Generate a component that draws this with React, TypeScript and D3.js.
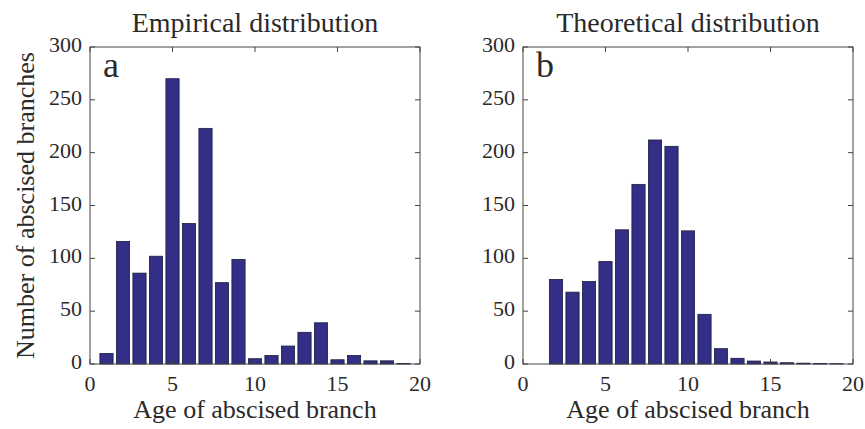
import React from 'react';
import * as d3 from 'd3';

// ages (bins) and counts
const empiricalAges = [1, 2, 3, 4, 5, 6, 7, 8, 9, 10, 11, 12, 13, 14, 15, 16, 17, 18, 19];
const empiricalCounts = [10, 116, 86, 102, 270, 133, 223, 77, 99, 5, 8, 17, 30, 39, 4, 8, 3, 3, 0.5];

const theoreticalAges = [2, 3, 4, 5, 6, 7, 8, 9, 10, 11, 12, 13, 14, 15, 16, 17, 18, 19];
const theoreticalCounts = [80, 68, 78, 97, 127, 170, 212, 206, 126, 47, 14.5, 5.4, 2.8, 1.9, 1.2, 0.8, 0.5, 0.3];

const xTicks = [0, 5, 10, 15, 20];
const yTicks = [0, 50, 100, 150, 200, 250, 300];

const FONT = "'Liberation Serif', 'Times New Roman', serif";
const BAR = '#332f86';
const BAR_EDGE = '#1c1b40';
const AXIS = '#444';
const TEXT = '#2a2a2a';

type PanelProps = {
    left: number;
    right: number;
    ages: number[];
    counts: number[];
    title: string;
    letter: string;
    yLabel?: string;
};

function Panel({ left, right, ages, counts, title, letter, yLabel }: PanelProps) {
    const top = 47, bottom = 364;
    const x = d3.scaleLinear().domain([0, 20]).range([left, right]);
    const y = d3.scaleLinear().domain([0, 300]).range([bottom, top]);
    const bw = x(0.8) - x(0);
    const tk = 5;

    return (
        <g>
            {/* bars */}
            {ages.map((a, i) => (
                <rect key={a} x={x(a) - bw / 2} y={y(counts[i])} width={bw} height={y(0) - y(counts[i])}
                    fill={BAR} stroke={BAR_EDGE} strokeWidth={0.8} />
            ))}
            {/* box */}
            <rect x={left} y={top} width={right - left} height={bottom - top} fill="none" stroke={AXIS} strokeWidth={1} />
            {/* x ticks, bottom & top, inward */}
            {xTicks.map(t => (
                <g key={'x' + t}>
                    <line x1={x(t)} x2={x(t)} y1={bottom} y2={bottom - tk} stroke={AXIS} />
                    <line x1={x(t)} x2={x(t)} y1={top} y2={top + tk} stroke={AXIS} />
                    <text x={x(t)} y={bottom + 27} textAnchor="middle" fontSize={22} fill={TEXT} fontFamily={FONT}>{t}</text>
                </g>
            ))}
            {/* y ticks, left & right */}
            {yTicks.map(t => (
                <g key={'y' + t}>
                    <line x1={left} x2={left + tk} y1={y(t)} y2={y(t)} stroke={AXIS} />
                    <line x1={right} x2={right - tk} y1={y(t)} y2={y(t)} stroke={AXIS} />
                    <text x={left - 8} y={y(t) + 5} textAnchor="end" fontSize={22} fill={TEXT} fontFamily={FONT}>{t}</text>
                </g>
            ))}
            <text x={(left + right) / 2} y={32} textAnchor="middle" fontSize={28} fill={TEXT} fontFamily={FONT}>{title}</text>
            <text x={(left + right) / 2} y={418} textAnchor="middle" fontSize={26} fill={TEXT} fontFamily={FONT}>Age of abscised branch</text>
            <text x={left + 13} y={77} fontSize={36} fill={TEXT} fontFamily={FONT}>{letter}</text>
            {yLabel && (
                <text transform={`translate(${left - 56},${(top + bottom) / 2}) rotate(-90)`} textAnchor="middle"
                    fontSize={26} fill={TEXT} fontFamily={FONT}>{yLabel}</text>
            )}
        </g>
    );
}

export default function App() {
    return (
        <svg width={865} height={429} style={{ position: 'absolute', left: 0, top: 0, background: '#fff' }}>
            <Panel left={90} right={420} ages={empiricalAges} counts={empiricalCounts}
                title="Empirical distribution" letter="a" yLabel="Number of abscised branches" />
            <Panel left={523} right={853} ages={theoreticalAges} counts={theoreticalCounts}
                title="Theoretical distribution" letter="b" />
        </svg>
    );
}
